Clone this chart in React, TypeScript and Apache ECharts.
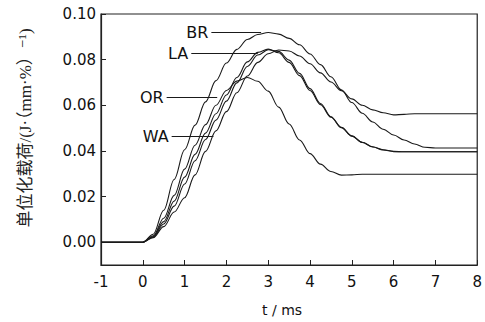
import React, { useEffect, useRef } from "react";
import * as echarts from "echarts";

// time axis (ms)
const times = [-1, 0, 0.25, 0.5, 0.75, 1.0, 1.25, 1.5, 1.75, 2.0, 2.25, 2.5, 2.75, 3.0, 3.25, 3.5, 3.75, 4.0, 4.25, 4.5, 4.75, 5.0, 5.25, 5.5, 5.75, 6.0, 6.25, 6.5, 6.75, 7.0, 8];

const brValues = [0, 0, 0.0035, 0.014, 0.0275, 0.0405, 0.0513, 0.0615, 0.0708, 0.0785, 0.0845, 0.0888, 0.091, 0.0919, 0.0912, 0.0893, 0.0865, 0.0825, 0.0778, 0.0725, 0.0668, 0.0612, 0.0565, 0.0527, 0.0495, 0.047, 0.0448, 0.043, 0.0416, 0.0413, 0.0413];
const waValues = [0, 0, 0.0028, 0.0105, 0.0205, 0.032, 0.0425, 0.0515, 0.06, 0.0665, 0.0706, 0.0722, 0.0705, 0.0662, 0.0592, 0.0518, 0.0448, 0.0388, 0.0342, 0.031, 0.0294, 0.0295, 0.0298, 0.0298, 0.0298, 0.0298, 0.0298, 0.0298, 0.0298, 0.0298, 0.0298];
const laValues = [0, 0, 0.0025, 0.009, 0.018, 0.0285, 0.0385, 0.0478, 0.0563, 0.0645, 0.0722, 0.079, 0.0832, 0.0846, 0.083, 0.0788, 0.073, 0.0665, 0.0603, 0.0548, 0.0502, 0.0465, 0.0437, 0.0417, 0.0404, 0.0397, 0.0396, 0.0396, 0.0396, 0.0396, 0.0396];
const orValues = [0, 0, 0.0022, 0.008, 0.0158, 0.0255, 0.0357, 0.045, 0.0535, 0.0618, 0.0698, 0.077, 0.082, 0.0843, 0.0836, 0.0798, 0.074, 0.0673, 0.0608, 0.055, 0.0503, 0.0466, 0.0438, 0.0418, 0.0405, 0.0398, 0.0396, 0.0396, 0.0396, 0.0396, 0.0396];
const fifthValues = [0, 0, 0.002, 0.0068, 0.0132, 0.0195, 0.0295, 0.0398, 0.0488, 0.0572, 0.0655, 0.0728, 0.0788, 0.0826, 0.0842, 0.0838, 0.0816, 0.0782, 0.0742, 0.0702, 0.0664, 0.0628, 0.06, 0.058, 0.0567, 0.0558, 0.056, 0.0563, 0.0563, 0.0563, 0.0563];

const yTickValues = [0, 0.02, 0.04, 0.06, 0.08, 0.1];

// label pointers in data coordinates: [t, value]
const pointerNames = ["BR", "LA", "OR", "WA"];
const pointerStarts = [[1.64, 0.0921], [1.16, 0.0828], [0.57, 0.0634], [0.69, 0.0464]];
const pointerEnds = [[2.83, 0.0921], [2.75, 0.0828], [1.78, 0.0634], [1.69, 0.0464]];

const seriesDefs = [
  { name: "BR", values: brValues },
  { name: "LA", values: laValues },
  { name: "OR", values: orValues },
  { name: "WA", values: waValues },
  { name: "S5", values: fifthValues },
];

export default function App() {
  const ref = useRef<HTMLDivElement>(null);
  useEffect(() => {
    document.body.style.margin = "0";
    if (!ref.current) return;
    const chart = echarts.init(ref.current, undefined, { renderer: "svg" });
    const lineColor = "#1a1a1a";
    const series: any[] = seriesDefs.map((s) => ({
      name: s.name,
      type: "line",
      data: times.map((t, i) => [t, s.values[i]]),
      showSymbol: false,
      smooth: 0.35,
      smoothMonotone: "x",
      lineStyle: { color: lineColor, width: 1.1 },
      silent: true,
    }));
    series.push({
      name: "pointers",
      type: "line",
      data: [],
      markLine: {
        silent: true,
        symbol: ["none", "none"],
        lineStyle: { color: lineColor, width: 1, type: "solid" },
        label: {
          show: true,
          position: "start",
          distance: 3,
          color: "#111",
          fontSize: 16,
          fontFamily: "DejaVu Sans",
          formatter: (p: any) => p.name,
        },
        data: pointerNames.map((n, i) => [
          { name: n, coord: pointerStarts[i] },
          { coord: pointerEnds[i] },
        ]),
      },
    });
    chart.setOption({
      animation: false,
      backgroundColor: "#fff",
      grid: {
        left: 101,
        right: 6,
        top: 14,
        bottom: 57,
        containLabel: false,
        show: true,
        borderColor: "#222",
        borderWidth: 1.2,
        backgroundColor: "transparent",
      },
      xAxis: {
        type: "value",
        min: -1,
        max: 8,
        interval: 1,
        name: "t / ms",
        nameLocation: "middle",
        nameGap: 38,
        nameTextStyle: {
          color: "#111",
          fontSize: 14,
          fontFamily: "DejaVu Sans",
          padding: [0, 14, 0, 0],
        },
        axisLine: { show: true, onZero: false, lineStyle: { color: "#222", width: 1.2 } },
        axisTick: { show: true, inside: true, length: 5, lineStyle: { color: "#222" } },
        axisLabel: { color: "#111", fontSize: 15, fontFamily: "DejaVu Sans", margin: 9 },
        splitLine: { show: false },
      },
      yAxis: {
        type: "value",
        min: -0.01,
        max: 0.1,
        axisLine: { show: true, onZero: false, lineStyle: { color: "#222", width: 1.2 } },
        axisTick: {
          show: true,
          inside: true,
          length: 5,
          customValues: yTickValues,
          lineStyle: { color: "#222" },
        },
        axisLabel: {
          color: "#111",
          fontSize: 15,
          fontFamily: "DejaVu Sans",
          margin: 5,
          customValues: yTickValues,
          formatter: (v: number) => v.toFixed(2),
        },
        splitLine: { show: false },
      },
      graphic: [
        {
          type: "text",
          x: 25,
          y: 128,
          rotation: Math.PI / 2,
          style: {
            text: "单位化载荷/(J·（mm·%）⁻¹)",
            fill: "#222",
            fontSize: 17,
            fontFamily: "Liberation Serif, DejaVu Serif, Noto Sans CJK SC",
            align: "center",
            verticalAlign: "middle",
          },
        },
      ],
      series,
    });
    return () => chart.dispose();
  }, []);
  return <div ref={ref} style={{ width: 485, height: 322 }} />;
}
